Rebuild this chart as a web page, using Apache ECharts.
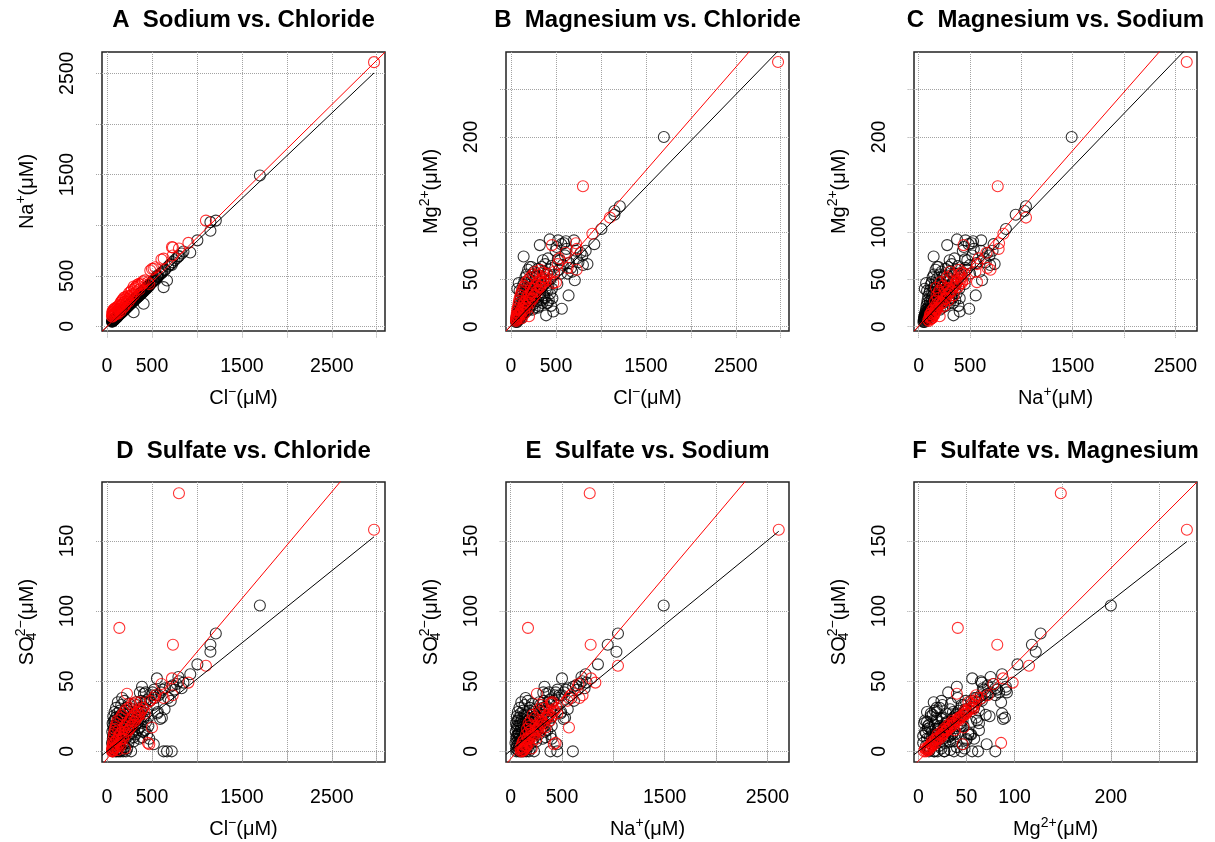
<!DOCTYPE html>
<html>
<head>
<meta charset="utf-8">
<title>Ion ratios</title>
<script src="https://cdn.jsdelivr.net/npm/echarts@6.0.0/dist/echarts.min.js"></script>
<style>
html, body { margin: 0; padding: 0; background: #fff; }
#chart { width: 1215px; height: 842px; }
</style>
</head>
<body>
<div id="chart"></div>
<script>
// every row: [Cl, Na, Mg, SO4] in uM
const blackSamples = [
  [55,47,5,6],[58,50,7,14],[60,54,10,2],[62,53,6,20],[64,55,9,9],[66,57,11,0],[68,58,5,11],[70,61,13,25],[70,60,40,18],[72,60,8,4],
  [74,64,10,16],[76,66,15,7],[78,65,7,22],[80,69,12,1],[82,71,18,12],[84,70,9,28],[85,73,46,22],[86,74,14,5],[88,77,22,9],[90,76,10,18],
  [92,80,16,0],[94,79,8,13],[95,82,38,12],[96,84,25,24],[98,83,12,3],[100,86,19,31],[102,88,14,10],[104,87,28,6],[106,92,11,19],[108,94,17,0],
  [110,93,32,15],[112,97,13,27],[114,99,21,8],[116,97,9,21],[118,103,35,12],[120,104,16,35],[122,106,24,2],[124,105,12,17],[126,110,38,9],[128,111,19,23],
  [130,110,27,0],[132,115,14,14],[135,117,44,20],[138,119,22,4],[140,146,74,25],[142,122,17,29],[145,126,30,11],[148,128,47,18],[150,127,20,0],
  [152,132,36,7],[155,134,15,26],[158,137,25,33],[160,136,52,12],[162,141,33,1],[165,143,18,16],[168,146,41,38],[170,145,26,9],[172,150,55,21],[175,152,21,14],
  [178,151,37,0],[180,157,29,27],[183,159,46,5],[186,158,17,19],[188,164,33,11],[190,165,60,24],[193,168,24,36],[196,167,40,3],[198,172,28,17],[200,174,50,8],
  [203,173,19,22],[206,179,36,13],[208,181,63,29],[210,178,27,0],[213,185,44,18],[216,188,22,31],[220,190,31,10],[224,195,48,2],[228,194,63,20],[230,200,26,15],
  [234,203,39,26],[238,207,18,6],[240,204,55,12],[244,212,34,34],[248,216,42,19],[252,214,24,23],[256,222,58,9],[260,226,36,28],[264,229,20,16],[268,228,45,0],
  [272,236,30,21],[276,240,52,13],[280,238,38,25],[285,248,27,18],[290,252,49,30],[295,250,33,7],[296,140,20,10],[300,260,61,22],
  [305,265,40,27],[310,264,22,18],[315,274,54,12],[320,278,86,35],[325,276,36,24],[330,287,47,33],[335,291,28,20],[340,289,63,15],[345,300,42,29],[350,304,25,23],
  [355,302,70,26],[358,311,50,9],[362,315,33,17],[365,318,31,42],[366,311,58,31],[370,322,45,26],[375,326,30,20],[380,323,66,36],[385,335,48,28],[389,330,40,46],
  [390,339,12,10],[395,336,25,14],[400,348,56,32],[405,352,38,23],[407,224,25,14],[410,349,72,41],[415,361,44,25],[420,357,28,15],[425,370,60,35],[430,374,92,42],
  [435,370,35,21],[440,383,50,30],[445,387,22,12],[450,383,64,37],[455,396,40,24],[460,400,30,18],[470,400,16,9],
  [480,418,55,36],[495,430,80,40],[506,440,84,42],[515,448,45,33],[520,452,71,5],[524,456,91,44],[535,466,60,38],[545,474,70,40],[555,500,56,52],[560,487,87,27],
  [565,492,19,28],[575,500,65,40],[590,515,88,23],[600,522,75,42],[610,530,90,24],[617,537,82,44],[629,388,56,0],[640,556,33,30],[646,562,67,45],[667,454,62,0],
  [680,592,58,38],[700,609,91,46],[709,617,49,36],[720,606,80,0],[730,635,72,47],[750,653,68,44],[775,674,78,48],[794,690,75,53],[800,696,65,50],[830,720,80,45],
  [850,740,66,49],[926,730,87,55],[1005,850,103,62],[1150,945,118,76],[1150,1030,122,71],[1210,1045,127,84],[1700,1490,200,104]
];

const redSamples = [
  [55,100,6,0],[57,130,9,1],[59,95,7,2],[61,150,12,4],[63,115,8,0],[65,140,15,6],[67,105,10,3],[70,165,18,9],[72,120,11,1],[75,150,20,12],
  [78,110,13,5],[82,175,24,14],[85,130,9,2],[88,160,27,16],[92,120,14,7],[96,185,30,18],[100,145,12,3],[105,175,33,20],[110,130,17,8],[115,195,36,22],
  [120,160,15,4],[120,125,9,1],[125,200,38,15],[130,170,20,10],[137,169,41,88],[140,215,24,12],[145,180,18,6],[150,235,43,24],[150,150,14,4],[156,205,26,13],
  [162,250,22,9],[168,215,47,26],[175,265,30,16],[180,185,20,9],[182,230,25,11],[190,285,49,28],[198,245,34,18],[200,205,11,2],[205,290,28,14],[210,225,25,12],
  [212,275,52,30],[222,256,40,41],[228,300,36,20],[236,270,30,15],[240,245,29,15],[244,330,55,31],[252,290,40,22],[260,340,33,17],[268,305,58,33],[270,280,34,18],
  [276,360,44,24],[285,320,37,19],[296,395,55,34],[300,310,38,21],[305,370,48,26],[315,385,42,22],[325,395,60,35],[330,345,42,24],[335,410,50,28],[345,400,45,25],
  [355,420,57,30],[360,365,47,26],[370,411,52,35],[385,425,48,29],[400,445,56,31],[420,455,50,27],[455,437,86,6],[470,420,46,5],[481,553,58,36],[500,568,47,17],
  [518,569,66,38],[537,585,72,40],[605,660,78,48],[630,670,62,38],[730,700,60,40],[733,779,82,76],[722,783,88,52],[800,770,148,184],[905,825,98,49],[1100,1045,115,61],
  [2970,2610,279,158]
];

// axis ranges, grid ticks and labelled ticks
const clRange = [-56, 3092];
const naRange = [-45, 2710];
const mgRange = [-4.5, 289.5];
const so4Range = [-7.6, 192];
const clTicks = [0, 500, 1000, 1500, 2000, 2500, 3000];
const naTicks = [0, 500, 1000, 1500, 2000, 2500];
const mgTicks = [0, 50, 100, 150, 200, 250];
const so4Ticks = [0, 50, 100, 150];
const clLabels = [0, 500, 1500, 2500];
const naLabels = [0, 500, 1500, 2500];
const mgLabels = [0, 50, 100, 200];
const so4Labels = [0, 50, 100, 150];

// fitted lines, [slope, intercept], panels A..F
const blackFits = [[0.8435, -1.8], [0.0975, 0.9], [0.1123, 0.2], [0.0515, 0], [0.0599, 0.5], [0.536, 0]];
const redFits = [[0.876, 0], [0.1088, 1.5], [0.1233, 0.7], [0.0761, -5.3], [0.0866, -5.35], [0.687, -6.9]];

const titles = [
  'A  Sodium vs. Chloride', 'B  Magnesium vs. Chloride', 'C  Magnesium vs. Sodium',
  'D  Sulfate vs. Chloride', 'E  Sulfate vs. Sodium', 'F  Sulfate vs. Magnesium'
];

const FONT = '"Liberation Sans", Arial, Helvetica, sans-serif';
const GRID_COLOR = '#a3a3a3';

const variables = [
  { name: '{t|Cl}{sup|\u2212}{t|(\u03bcM)}', range: clRange, ticks: clTicks, labels: clLabels },
  { name: '{t|Na}{sup|+}{t|(\u03bcM)}', range: naRange, ticks: naTicks, labels: naLabels },
  { name: '{t|Mg}{sup|2+}{t|(\u03bcM)}', range: mgRange, ticks: mgTicks, labels: mgLabels },
  { name: '{t|SO}{sub|4}{sup|2\u2212}{t|(\u03bcM)}', range: so4Range, ticks: so4Ticks, labels: so4Labels }
];

// [x variable, y variable] for every panel
const pairs = [[0, 1], [0, 2], [1, 2], [0, 3], [1, 3], [2, 3]];

const colLeft = [102, 506, 914];
const rowTop = [52, 482];
const boxW = 283;
const boxH = [279, 280];

const nameRich = {
  t: { fontSize: 20, fontFamily: FONT, color: '#000' },
  sup: { fontSize: 14, fontFamily: FONT, color: '#000', padding: [0, 0, 12, 0] },
  sub: { fontSize: 14, fontFamily: FONT, color: '#000', padding: [10, 0, 0, 0], width: 0 }
};

function makeAxis(v, i, isX) {
  return {
    type: 'value',
    gridIndex: i,
    min: v.range[0],
    max: v.range[1],
    position: isX ? 'bottom' : 'left',
    axisLine: { show: false },
    axisTick: {
      show: true,
      customValues: v.ticks,
      length: 12,
      lineStyle: { color: GRID_COLOR, type: 'dotted', width: 1 }
    },
    axisLabel: {
      customValues: v.labels,
      formatter: val => String(val),
      fontSize: 19.5,
      fontFamily: FONT,
      color: '#000',
      margin: isX ? 26 : 24,
      rotate: isX ? 0 : 90
    },
    splitLine: { show: true, lineStyle: { color: GRID_COLOR, type: 'dotted', width: 1 } },
    name: v.name,
    nameLocation: 'middle',
    nameGap: isX ? 54 : 62,
    nameTextStyle: { rich: nameRich }
  };
}

const grids = [], xAxes = [], yAxes = [], series = [], titleList = [];

pairs.forEach((p, i) => {
  const col = i % 3, row = Math.floor(i / 3);
  const vx = variables[p[0]], vy = variables[p[1]];
  grids.push({
    left: colLeft[col], top: rowTop[row], width: boxW, height: boxH[row],
    show: true, borderColor: '#222', borderWidth: 1.5, backgroundColor: 'transparent'
  });
  xAxes.push(makeAxis(vx, i, true));
  yAxes.push(makeAxis(vy, i, false));
  titleList.push({
    text: titles[i],
    left: colLeft[col] + boxW / 2,
    top: row === 0 ? 8 : 439,
    textAlign: 'center',
    padding: 0,
    textStyle: { fontSize: 24, fontWeight: 'bold', fontFamily: FONT, color: '#000' }
  });

  const pts = s => [s[p[0]], s[p[1]]];
  const dataMax = Math.max(...blackSamples.map(s => s[p[0]]), ...redSamples.map(s => s[p[0]]));
  const bf = blackFits[i], rf = redFits[i];
  const x0 = vx.range[0];

  series.push({
    type: 'scatter', xAxisIndex: i, yAxisIndex: i, silent: true, z: 2,
    symbol: 'circle', symbolSize: 11,
    itemStyle: { color: 'rgba(0,0,0,0)', borderColor: '#000', borderWidth: 1.1 },
    data: blackSamples.map(pts)
  });
  series.push({
    type: 'scatter', xAxisIndex: i, yAxisIndex: i, silent: true, z: 3,
    symbol: 'circle', symbolSize: 11,
    itemStyle: { color: 'rgba(0,0,0,0)', borderColor: '#ff0000', borderWidth: 1.1 },
    data: redSamples.map(pts)
  });
  series.push({
    type: 'line', xAxisIndex: i, yAxisIndex: i, silent: true, z: 4,
    symbol: 'none', clip: true,
    lineStyle: { color: '#000', width: 1 },
    data: [[x0, bf[1] + bf[0] * x0], [dataMax, bf[1] + bf[0] * dataMax]]
  });
  series.push({
    type: 'line', xAxisIndex: i, yAxisIndex: i, silent: true, z: 5,
    symbol: 'none', clip: true,
    lineStyle: { color: '#ff0000', width: 1 },
    data: [[x0, rf[1] + rf[0] * x0], [vx.range[1], rf[1] + rf[0] * vx.range[1]]]
  });
});

const chart = echarts.init(document.getElementById('chart'), null, { renderer: 'canvas' });
chart.setOption({
  backgroundColor: '#fff',
  animation: false,
  title: titleList,
  grid: grids,
  xAxis: xAxes,
  yAxis: yAxes,
  series: series
});
</script>
</body>
</html>
